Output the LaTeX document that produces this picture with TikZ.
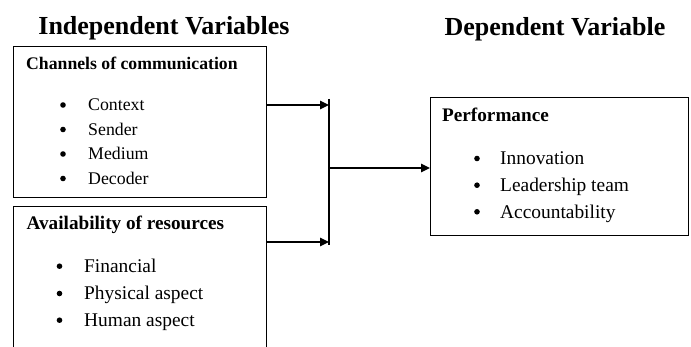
\documentclass[tikz,border=0pt]{standalone}
\usepackage{fontspec}
\setmainfont{Liberation Serif}
\usetikzlibrary{arrows.meta}
\begin{document}
\begin{tikzpicture}[x=1pt,y=-1pt,
  box/.style={draw,line width=1.4pt,inner sep=0pt,anchor=north west},
  title/.style={font=\fontsize{26}{30}\selectfont\bfseries,anchor=base,inner sep=0pt},
  headA/.style={font=\fontsize{17.7}{20}\selectfont\bfseries,anchor=base west,inner sep=0pt},
  headB/.style={font=\fontsize{19.2}{22}\selectfont\bfseries,anchor=base west,inner sep=0pt},
  itemA/.style={font=\fontsize{17.8}{20}\selectfont,anchor=base west,inner sep=0pt},
  itemB/.style={font=\fontsize{19.4}{22}\selectfont,anchor=base west,inner sep=0pt},
  dot/.style={circle,fill=black,inner sep=0pt,minimum size=5.6pt},
  conn/.style={line width=1.4pt},
  arr/.style={conn,-{Triangle[length=9pt,width=8.5pt]}}]
\useasboundingbox (0,0) rectangle (691,347);
\clip (0,0) rectangle (691,347);
\fill[white] (0,0) rectangle (691,347);

% titles
\node[title] (tind) at (164,35) {Independent Variables};
\node[title] (tdep) at (555,36) {Dependent Variable};

% boxes
\node[box,minimum width=253pt,minimum height=151pt] (box1) at (13,46) {};
\node[box,minimum width=253pt,minimum height=170pt] (box2) at (13,206) {};
\node[box,minimum width=258pt,minimum height=138pt] (box3) at (430,97) {};

% box 1 text
\node[headA] (h1) at (26,70) {Channels of communication};
\node[dot] (d11) at (63,105) {};
\node[itemA] (i11) at (88,111) {Context};
\node[dot] (d12) at (63,129.5) {};
\node[itemA] (i12) at (88,135.5) {Sender};
\node[dot] (d13) at (63,154) {};
\node[itemA] (i13) at (88,160) {Medium};
\node[dot] (d14) at (63,178.5) {};
\node[itemA] (i14) at (88,184.5) {Decoder};

% box 2 text
\node[headB] (h2) at (26.5,230) {Availability of resources};
\node[dot] (d21) at (59.5,266.2) {};
\node[itemB] (i21) at (84,272.7) {Financial};
\node[dot] (d22) at (59.5,293.5) {};
\node[itemB] (i22) at (84,300) {Physical aspect};
\node[dot] (d23) at (59.5,320.2) {};
\node[itemB] (i23) at (84,326.7) {Human aspect};

% box 3 text
\node[headB] (h3) at (442,121.7) {Performance};
\node[dot] (d31) at (477,158.5) {};
\node[itemB] (i31) at (500,165) {Innovation};
\node[dot] (d32) at (477,185.2) {};
\node[itemB] (i32) at (500,191.7) {Leadership team};
\node[dot] (d33) at (477,211.8) {};
\node[itemB] (i33) at (500,218.3) {Accountability};

% connectors
\coordinate (jt) at (329,99);
\coordinate (jb) at (329,245);
\coordinate (a1) at (329,105);
\coordinate (a2) at (329,242);
\coordinate (jm) at (330,168);
\draw[conn] (jt) -- (jb);
\draw[arr] (box1.east |- a1) -- (a1);
\draw[arr] (box2.east |- a2) -- (a2);
\draw[arr] (jm) -- (box3.west |- jm);
\end{tikzpicture}
\end{document}
